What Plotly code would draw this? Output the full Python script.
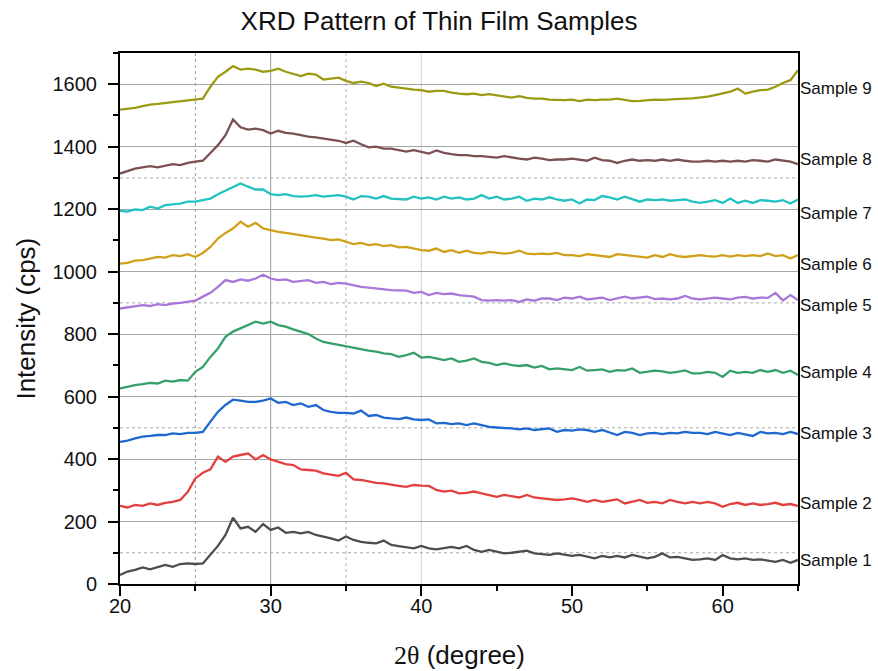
import plotly.graph_objects as go

two_theta = [20 + 0.5 * i for i in range(91)]

sample_1 = [29, 40, 45, 53, 47, 55, 61, 55, 64, 66, 64, 66, 93, 122, 157, 212, 178, 183, 167, 192,
            173, 181, 164, 167, 162, 167, 157, 152, 146, 139, 152, 141, 135, 132, 130, 139, 125, 121, 117, 114,
            122, 114, 111, 114, 119, 114, 122, 109, 103, 109, 103, 98, 100, 103, 107, 98, 96, 93, 98, 93,
            90, 93, 87, 82, 90, 85, 90, 85, 93, 87, 82, 87, 98, 85, 87, 82, 77, 79, 82, 77,
            93, 82, 79, 82, 77, 79, 75, 71, 77, 68, 77]
sample_2 = [250, 245, 253, 250, 258, 253, 260, 263, 269, 295, 338, 356, 367, 408, 391, 408, 413, 418, 399, 413,
            399, 391, 384, 381, 367, 365, 363, 354, 349, 346, 356, 335, 333, 328, 324, 322, 317, 314, 311, 317,
            315, 314, 301, 296, 299, 290, 292, 296, 290, 285, 279, 285, 282, 277, 285, 277, 274, 271, 269, 271,
            274, 269, 263, 269, 263, 267, 271, 258, 263, 269, 260, 263, 258, 269, 263, 258, 263, 258, 263, 258,
            247, 256, 260, 253, 258, 253, 256, 260, 253, 256, 250]
sample_3 = [455, 459, 466, 472, 474, 477, 477, 482, 480, 484, 484, 487, 520, 551, 573, 590, 587, 583, 583, 587,
            594, 580, 583, 573, 578, 567, 573, 557, 551, 548, 548, 546, 555, 538, 541, 533, 530, 528, 533, 527,
            525, 527, 514, 516, 512, 514, 509, 514, 509, 503, 501, 500, 498, 495, 498, 493, 495, 498, 487, 493,
            491, 495, 493, 487, 493, 484, 477, 487, 484, 477, 482, 484, 480, 484, 482, 487, 484, 484, 480, 487,
            482, 477, 484, 480, 474, 487, 482, 484, 480, 487, 480]
sample_4 = [626, 632, 637, 640, 644, 642, 651, 648, 653, 651, 679, 695, 727, 754, 791, 808, 818, 829, 840, 834,
            840, 829, 824, 815, 808, 800, 786, 775, 770, 765, 760, 757, 751, 747, 744, 738, 736, 727, 733, 740,
            725, 727, 722, 717, 722, 711, 715, 722, 711, 708, 701, 706, 701, 698, 701, 693, 698, 687, 690, 687,
            685, 695, 683, 685, 687, 679, 685, 683, 690, 676, 679, 683, 681, 676, 679, 684, 674, 674, 679, 676,
            663, 683, 676, 679, 676, 685, 679, 685, 676, 683, 669]
sample_5 = [882, 885, 890, 893, 890, 896, 893, 898, 900, 903, 907, 920, 932, 951, 973, 967, 975, 971, 978, 990,
            978, 973, 975, 967, 971, 973, 964, 967, 960, 964, 962, 957, 951, 949, 946, 943, 941, 940, 939, 932,
            935, 925, 932, 928, 930, 925, 922, 920, 909, 907, 909, 907, 909, 903, 911, 907, 914, 914, 909, 917,
            914, 920, 911, 914, 917, 909, 914, 920, 914, 917, 920, 912, 914, 911, 914, 922, 914, 911, 914, 917,
            914, 911, 917, 919, 914, 917, 916, 932, 908, 925, 909]
sample_6 = [1026, 1028, 1035, 1037, 1042, 1047, 1045, 1053, 1050, 1056, 1047, 1060, 1079, 1106, 1124, 1138, 1160, 1144, 1156, 1138,
            1133, 1127, 1124, 1120, 1117, 1111, 1109, 1106, 1101, 1103, 1095, 1088, 1092, 1085, 1088, 1082, 1085, 1078, 1079, 1074,
            1069, 1067, 1074, 1063, 1069, 1060, 1067, 1060, 1058, 1063, 1060, 1058, 1060, 1067, 1058, 1056, 1058, 1056, 1060, 1053,
            1053, 1050, 1056, 1053, 1050, 1047, 1056, 1053, 1050, 1047, 1045, 1053, 1047, 1056, 1050, 1047, 1050, 1053, 1050, 1048,
            1053, 1048, 1053, 1050, 1053, 1050, 1058, 1050, 1053, 1042, 1053]
sample_7 = [1195, 1192, 1199, 1197, 1208, 1202, 1213, 1216, 1218, 1224, 1224, 1229, 1234, 1248, 1259, 1272, 1282, 1272, 1263, 1263,
            1248, 1245, 1248, 1242, 1240, 1242, 1245, 1240, 1242, 1245, 1240, 1231, 1242, 1240, 1234, 1242, 1234, 1233, 1231, 1240,
            1234, 1238, 1231, 1240, 1234, 1238, 1231, 1234, 1245, 1234, 1240, 1231, 1234, 1240, 1227, 1234, 1231, 1238, 1231, 1227,
            1231, 1218, 1231, 1229, 1242, 1238, 1231, 1240, 1231, 1224, 1231, 1229, 1231, 1227, 1229, 1231, 1224, 1220, 1224, 1229,
            1220, 1234, 1220, 1227, 1220, 1229, 1227, 1224, 1229, 1218, 1231]
sample_8 = [1314, 1323, 1330, 1334, 1338, 1334, 1338, 1344, 1341, 1348, 1352, 1355, 1380, 1405, 1437, 1487, 1462, 1455, 1458, 1453,
            1442, 1451, 1444, 1442, 1437, 1432, 1430, 1426, 1421, 1419, 1412, 1419, 1408, 1398, 1400, 1394, 1394, 1390, 1384, 1389,
            1384, 1378, 1388, 1380, 1376, 1373, 1373, 1370, 1370, 1368, 1365, 1370, 1365, 1362, 1359, 1365, 1362, 1357, 1359, 1359,
            1362, 1359, 1355, 1365, 1357, 1355, 1348, 1355, 1359, 1355, 1357, 1355, 1359, 1355, 1359, 1355, 1352, 1352, 1355, 1352,
            1355, 1352, 1355, 1352, 1357, 1355, 1352, 1359, 1355, 1352, 1344]
sample_9 = [1519, 1521, 1524, 1530, 1535, 1537, 1540, 1543, 1547, 1549, 1551, 1554, 1592, 1624, 1640, 1658, 1647, 1650, 1647, 1640,
            1643, 1650, 1640, 1634, 1626, 1634, 1631, 1615, 1618, 1621, 1611, 1604, 1608, 1604, 1594, 1602, 1592, 1590, 1586, 1583,
            1581, 1576, 1579, 1579, 1573, 1570, 1568, 1570, 1565, 1568, 1565, 1560, 1557, 1562, 1556, 1554, 1554, 1551, 1549, 1549,
            1551, 1546, 1551, 1549, 1551, 1551, 1554, 1551, 1546, 1547, 1549, 1551, 1550, 1552, 1553, 1554, 1555, 1557, 1560, 1565,
            1570, 1576, 1586, 1570, 1576, 1581, 1583, 1592, 1604, 1613, 1645]

sample_names = ["Sample 1", "Sample 2", "Sample 3", "Sample 4", "Sample 5",
                "Sample 6", "Sample 7", "Sample 8", "Sample 9"]
series = [sample_1, sample_2, sample_3, sample_4, sample_5, sample_6, sample_7, sample_8, sample_9]
colors = ["#4d4d4d", "#e2403f", "#1f68cf", "#35a06a", "#a878d8",
          "#d1a01a", "#22c2c4", "#7b5052", "#9c9a12"]
label_y = [74, 259, 483, 678, 893, 1024, 1187, 1360, 1587]

x_ticks = [20, 30, 40, 50, 60]
y_ticks = [0, 200, 400, 600, 800, 1000, 1200, 1400, 1600]

font = "Liberation Sans, Arial, sans-serif"

fig = go.Figure()
for name, ys, c in zip(sample_names, series, colors):
    fig.add_trace(go.Scatter(x=two_theta, y=ys, mode="lines", name=name,
                             line=dict(color=c, width=2.3), showlegend=False))

shapes = []
for xv, dash, col in [(25, "dot", "#9a9a9a"), (30, "solid", "#9a9a9a"),
                      (35, "dot", "#b0b0b0"), (40, "solid", "#d0d0d0")]:
    shapes.append(dict(type="line", xref="x", yref="paper", x0=xv, x1=xv, y0=0, y1=1,
                       line=dict(color=col, width=1, dash=dash), layer="below"))
for yv in [100, 500, 900, 1300]:
    shapes.append(dict(type="line", xref="paper", yref="y", x0=0, x1=1, y0=yv, y1=yv,
                       line=dict(color="#a8a8a8", width=1, dash="dot"), layer="below"))

annotations = []
for name, yv in zip(sample_names, label_y):
    annotations.append(dict(x=65, y=yv, xref="x", yref="y", text=name, showarrow=False,
                            xanchor="left", yanchor="middle", xshift=0,
                            font=dict(family=font, size=17, color="#111")))
annotations.append(dict(x=-0.14, y=0.5, xref="paper", yref="paper", text="Intensity (cps)",
                        textangle=-90, showarrow=False, xanchor="center", yanchor="middle",
                        font=dict(family=font, size=26, color="#111")))
annotations.append(dict(x=0.5, y=-0.134, xref="paper", yref="paper",
                        text='<span style="font-family:Liberation Serif">2θ</span> (degree)',
                        showarrow=False, xanchor="center", yanchor="middle",
                        font=dict(family=font, size=26, color="#111")))

fig.update_layout(
    width=878, height=671,
    margin=dict(l=120, r=80, t=53, b=87),
    paper_bgcolor="white", plot_bgcolor="white",
    title=dict(text="XRD Pattern of Thin Film Samples", x=0.5, xanchor="center",
               y=0.983, yanchor="top", font=dict(family=font, size=26, color="#111")),
    shapes=shapes, annotations=annotations,
    font=dict(family=font, color="#111"),
)
fig.update_xaxes(range=[20, 65], tickvals=x_ticks, ticks="outside", ticklen=10, tickwidth=2,
                 tickcolor="black", showline=True, linecolor="black", linewidth=2, mirror=True,
                 showgrid=False, zeroline=False, automargin=False, ticklabelstandoff=-7,
                 minor=dict(ticks="outside", dtick=5, tick0=20, ticklen=5, tickwidth=2, tickcolor="black"),
                 tickfont=dict(family=font, size=20, color="#111"))
fig.update_yaxes(range=[0, 1700], tickvals=y_ticks, ticks="outside", ticklen=10, tickwidth=2,
                 tickcolor="black", showline=True, linecolor="black", linewidth=2, mirror=True,
                 showgrid=True, gridcolor="#a6a6a6", gridwidth=1, zeroline=False, automargin=False,
                 ticklabelstandoff=7,
                 minor=dict(ticks="outside", dtick=100, tick0=0, ticklen=5, tickwidth=2, tickcolor="black",
                            showgrid=False),
                 tickfont=dict(family=font, size=20, color="#111"))

# remove the default 8px page margin so the figure fills the window exactly; hide the modebar
fig.write_html("out.html", config={"displayModeBar": False},
               post_script="document.body.style.margin='0';")
